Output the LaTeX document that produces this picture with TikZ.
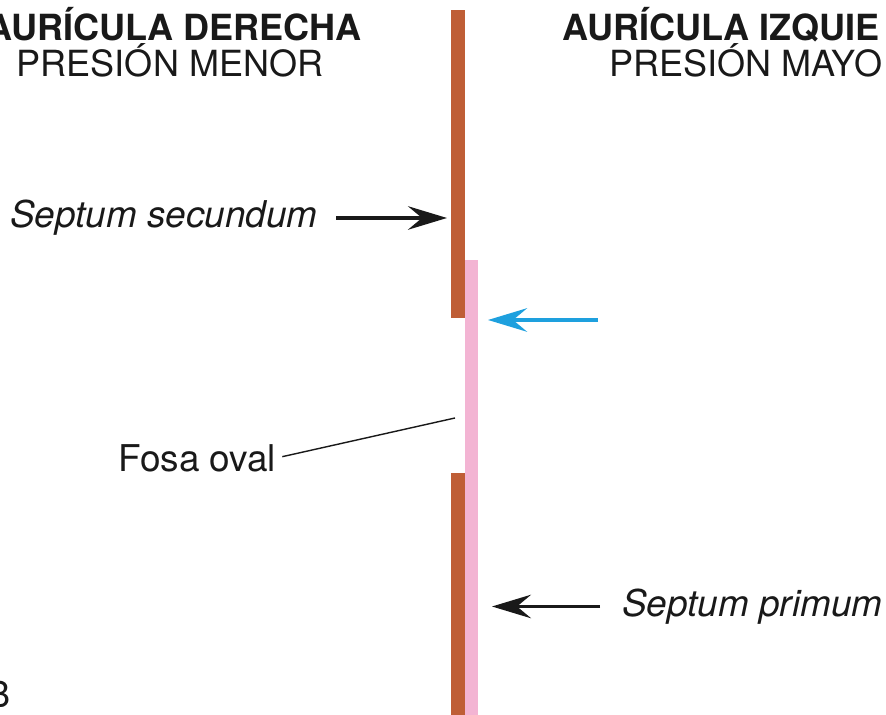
\documentclass[tikz,border=0pt]{standalone}
\usepackage{fontspec}
\setmainfont{TeX Gyre Heros}
\usetikzlibrary{arrows.meta}
\definecolor{septumbrown}{RGB}{191,94,54}
\definecolor{septumpink}{RGB}{243,180,211}
\definecolor{flowblue}{RGB}{30,160,222}
\newcommand{\lblsize}{\fontsize{20.5}{24}\selectfont}
\newcommand{\tagsize}{\fontsize{21}{24}\selectfont}
\tikzset{
    lbl/.style={inner sep=0pt, text=black!90, font=\lblsize},
    tag/.style={lbl, font=\tagsize},
    tagit/.style={lbl, font=\tagsize\itshape},
    hdr/.style={lbl, font=\lblsize\bfseries},
    ptr/.style={-{Stealth[length=0.78cm, width=0.47cm, inset=0.28cm]}, line width=1.9pt, black!90},
}
\begin{document}
\begin{tikzpicture}
    \useasboundingbox (0,0) rectangle (17.72,14.30);
    \clip (0,0) rectangle (17.72,14.30);

    % Septum walls
    \fill[septumbrown] (9.02,7.94) rectangle (9.30,14.10);
    \fill[septumbrown] (9.02,-0.1) rectangle (9.30,4.84);
    \fill[septumpink] (9.30,-0.1) rectangle (9.56,9.10);

    % Headers
    \node[hdr, anchor=base] (rightAtrium) at (3.48,13.48) {AURÍCULA DERECHA};
    \node[lbl, anchor=base] (lowPressure) at (3.40,12.76) {PRESIÓN MENOR};
    \node[hdr, anchor=base west] (leftAtrium) at (11.24,13.48) {AURÍCULA IZQUIE};
    \node[lbl, anchor=base west] (highPressure) at (12.18,12.76) {PRESIÓN MAYO};

    % Septum secundum
    \node[tagit, anchor=west] (secundum) at (0.2,9.94) {Septum secundum};
    \coordinate (secTip) at (8.94,9.94);
    \draw[ptr, shorten <=0.36cm] (secundum.east) -- (secTip);

    % Flow through the foramen
    \coordinate (blueTail) at (11.96,7.90);
    \coordinate (blueTip) at (9.76,7.90);
    \draw[ptr, flowblue, line width=2.2pt] (blueTail) -- (blueTip);

    % Fosa oval
    \node[tag, anchor=west] (fosa) at (2.36,5.14) {Fosa oval};
    \coordinate (fosaTip) at (9.10,5.94);
    \draw[line width=0.8pt, black!90, shorten <=0.12cm] (fosa.east) -- (fosaTip);

    % Septum primum
    \node[tagit, anchor=west] (primum) at (12.44,2.17) {Septum primum};
    \coordinate (priTip) at (9.84,2.17);
    \draw[ptr, shorten <=0.44cm] (primum.west) -- (priTip);

    \node[lbl, anchor=base west] (panel) at (-0.28,0.14) {B};
\end{tikzpicture}
\end{document}
